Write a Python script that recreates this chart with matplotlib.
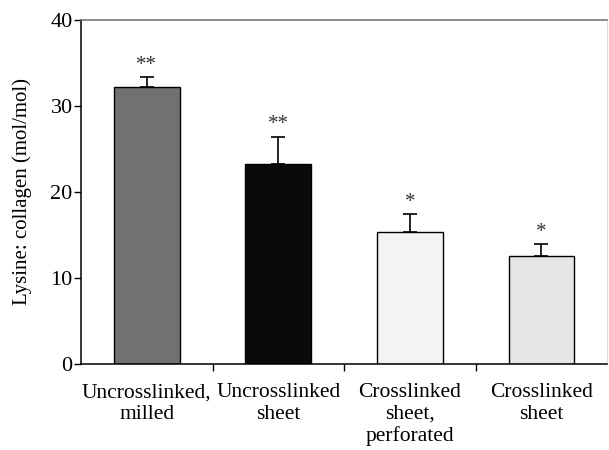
import numpy as np
import matplotlib.pyplot as plt

plt.rcParams['font.family'] = ['Liberation Serif', 'DejaVu Serif']

labels = ['Uncrosslinked,\nmilled', 'Uncrosslinked\nsheet',
          'Crosslinked\nsheet,\nperforated', 'Crosslinked\nsheet']
values = [32.2, 23.2, 15.3, 12.5]
errors = [1.1, 3.2, 2.1, 1.4]
stars = ['**', '**', '*', '*']
colors = ['#717171', '#0a0a0a', '#f3f3f3', '#e6e6e6']

fig = plt.figure(figsize=(6.09, 4.5), dpi=100)
ax = fig.add_axes([0.133, 0.191, 0.864, 0.765])

x = np.arange(len(values))
ax.bar(x, values, width=0.5, color=colors, edgecolor='black', linewidth=1.0, zorder=2)
# only the upper half of the error bar is shown
ax.errorbar(x, values, yerr=[np.zeros(len(errors)), errors], fmt='none',
            ecolor='black', elinewidth=1.2, capsize=5, capthick=1.2, zorder=1)

for xi, v, e, s in zip(x, values, errors, stars):
    ax.text(xi, v + e + 0.3, s, ha='center', va='bottom', fontsize=15, color='#333333')

ax.set_xlim(-0.5, 3.5)
ax.set_ylim(0, 40)
ax.set_yticks([0, 10, 20, 30, 40])
ax.set_xticks(x)
ax.set_xticklabels(labels, fontsize=15.5, linespacing=1.15)
ax.set_xticks([0.5, 1.5, 2.5], minor=True)
ax.tick_params(axis='x', which='major', length=0, pad=14)
ax.tick_params(axis='x', which='minor', length=5, width=1, direction='out')
ax.tick_params(axis='y', labelsize=16, length=5, width=1, direction='out', pad=1)
ax.set_ylabel('Lysine: collagen (mol/mol)', fontsize=15, labelpad=13)

for sp in ['left', 'bottom']:
    ax.spines[sp].set_linewidth(1.1)
ax.spines['top'].set_color('#777777')
ax.spines['top'].set_linewidth(1.2)
ax.spines['right'].set_color('#dddddd')
ax.spines['right'].set_linewidth(0.8)

fig.savefig('out.png', dpi=100)
